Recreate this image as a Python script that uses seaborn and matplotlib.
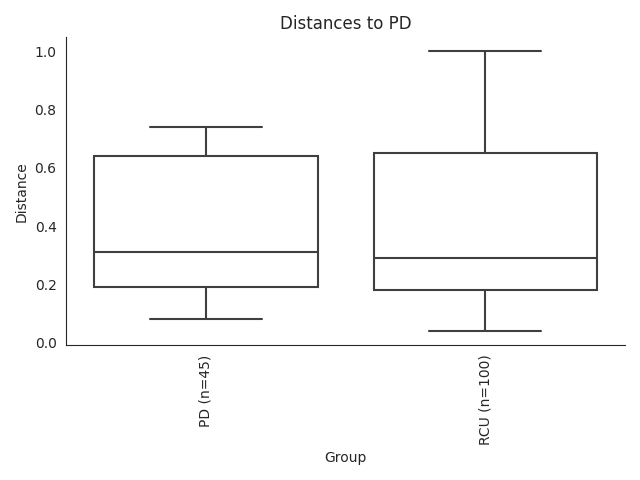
import seaborn as sns
import pandas as pd
import matplotlib
matplotlib.use("Agg")
import matplotlib.pyplot as plt

# values chosen so that whiskers / quartiles / median match the picture
groups = ["PD (n=45)", "RCU (n=100)"]
pd_dist = [0.08, 0.19, 0.31, 0.64, 0.74]
rcu_dist = [0.04, 0.18, 0.29, 0.65, 1.00]

df = pd.DataFrame({
    "Group": [groups[0]] * len(pd_dist) + [groups[1]] * len(rcu_dist),
    "Distance": pd_dist + rcu_dist,
})

sns.set_style("white")
plt.figure(figsize=(6.4, 4.8), dpi=100)
ax = sns.boxplot(data=df, x="Group", y="Distance", color="white",
                 linecolor="#3f3f3f", linewidth=1.5, width=0.8)
sns.despine()
plt.xticks(rotation=90)
plt.title("Distances to PD")
plt.tight_layout()
plt.savefig("out.png", dpi=100)
